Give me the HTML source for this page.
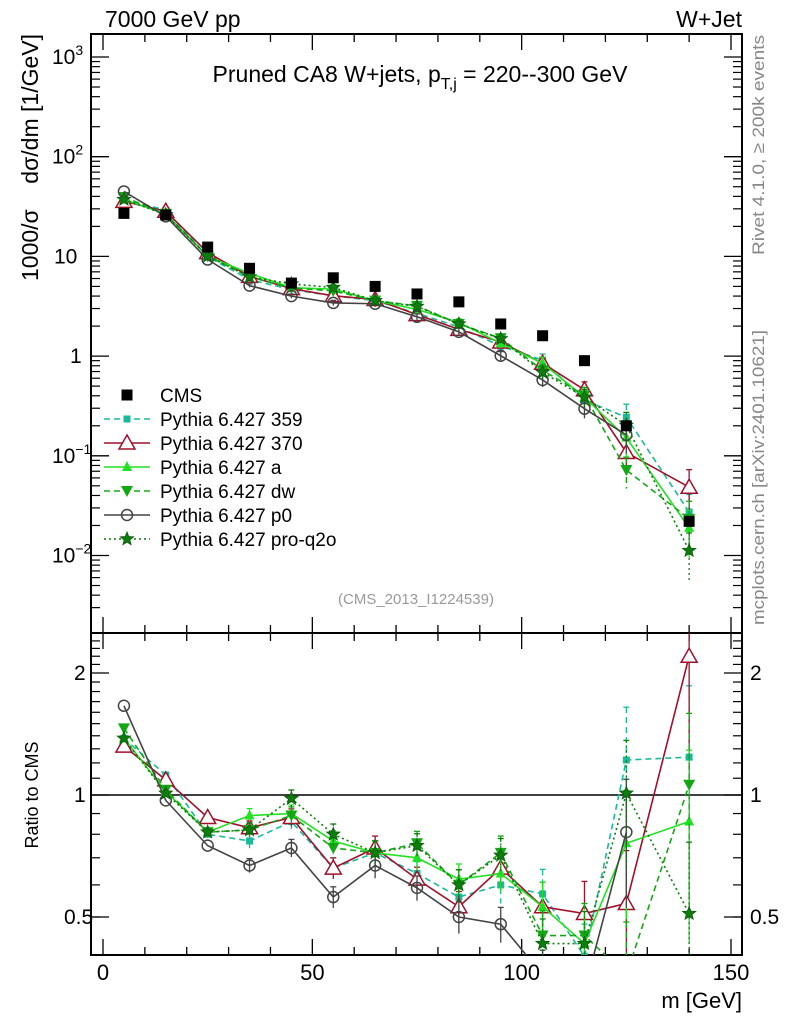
<!DOCTYPE html>
<html><head><meta charset="utf-8"><style>
body{margin:0;background:#fff}
svg{font-family:"Liberation Sans",sans-serif}
</style></head><body>
<svg id="c" width="786" height="1024" xmlns="http://www.w3.org/2000/svg"></svg>
<script>
const bins=[5,15,25,35,45,55,65,75,85,95,105,115,125,140];
const cms=[27,26,12.4,7.6,5.4,6.1,5.0,4.2,3.5,2.1,1.6,0.9,0.2,0.022];
const r359=[1.38,1.12,0.80,0.77,0.86,0.66,0.72,0.64,0.56,0.60,0.57,0.40,1.22,1.24];
const r370=[1.32,1.09,0.88,0.83,0.88,0.66,0.74,0.62,0.53,0.66,0.53,0.51,0.54,2.2];
const ra=[1.38,1.02,0.81,0.89,0.90,0.77,0.72,0.70,0.62,0.64,0.53,0.43,0.76,0.86];
const rdw=[1.46,1.03,0.81,0.82,0.89,0.74,0.72,0.76,0.60,0.72,0.45,0.45,0.36,1.06];
const rp0=[1.66,0.97,0.75,0.67,0.74,0.56,0.67,0.59,0.50,0.48,0.36,0.33,0.81,null];
const rq2o=[1.38,1.01,0.81,0.82,0.98,0.80,0.72,0.75,0.60,0.71,0.43,0.43,1.01,0.51];
const errFrac=[0.02,0.02,0.03,0.04,0.05,0.06,0.07,0.07,0.09,0.1,0.15,0.2,0.35,0.5];
const xTicks=[0,50,100,150];
const yTicksMain=[-2,-1,0,1,2,3];
const rTicks=[0.5,1,2];

const NS="http://www.w3.org/2000/svg",svg=document.getElementById('c');
const L=91,R=742,T=34,M=633,B=955;
const X=v=>103+(v)*(628/150);
const Y=v=>57+(3-Math.log10(v))*99.7;
const YR=v=>795-Math.log2(v)*122;
function el(t,a,p){const e=document.createElementNS(NS,t);for(const k in a)e.setAttribute(k,a[k]);(p||svg).appendChild(e);return e;}
function txt(x,y,s,a){const e=el('text',Object.assign({x:x,y:y,'font-size':20},a||{}));e.innerHTML=s;return e;}

const clipM=el('clipPath',{id:'cm'});el('rect',{x:L,y:T,width:R-L,height:M-T},clipM);
const clipR=el('clipPath',{id:'cr'});el('rect',{x:L,y:M,width:R-L,height:B-M},clipR);

const fm=el('rect',{x:L,y:T,width:R-L,height:M-T,fill:'none',stroke:'#000','stroke-width':2});

const fr=el('rect',{x:L,y:M,width:R-L,height:B-M,fill:'none',stroke:'#000','stroke-width':2});


for(let v=0;v<=150;v+=10){const maj=v%50==0,len=maj?16:8;
 [[T,1],[M,1],[B,-1],[M,-1]].forEach(([y0,d])=>el('line',{x1:X(v),x2:X(v),y1:y0,y2:y0+d*len,stroke:'#000','stroke-width':1.3}));}
xTicks.forEach(v=>{const t=txt(X(v),980,v,{'text-anchor':'middle','font-size':22});
 });
yTicksMain.forEach(p=>{const v=Math.pow(10,p);
 [[L,1],[R,-1]].forEach(([x0,d])=>el('line',{x1:x0,x2:x0+d*18,y1:Y(v),y2:Y(v),stroke:'#000','stroke-width':1.3}));
 for(let m=2;m<10;m++){const y=Y(v*m);if(y>T&&y<M)[[L,1],[R,-1]].forEach(([x0,d])=>el('line',{x1:x0,x2:x0+d*9,y1:y,y2:y,stroke:'#000','stroke-width':1.2}));}
 let lab=p==0?'1':p==1?'10':'10<tspan dy="-9" font-size="14">'+(p<0?'\u2212'+(-p):p)+'</tspan>';
 const t=txt(p>=2||p<0?52:(p==1?54:70),Y(v)+7,lab,{'font-size':21});
 });
for(let m=3;m<10;m++){const y=Y(0.001*m);if(y<M)[[L,1],[R,-1]].forEach(([x0,d])=>el('line',{x1:x0,x2:x0+d*9,y1:y,y2:y,stroke:'#000','stroke-width':1.2}));}
rTicks.forEach(v=>{[[L,1],[R,-1]].forEach(([x0,d])=>el('line',{x1:x0,x2:x0+d*18,y1:YR(v),y2:YR(v),stroke:'#000','stroke-width':1.3}));
 const s=String(v);
 const t1=txt(v==0.5?64:74,YR(v)+7,s,{'font-size':21});
 const t2=txt(750,YR(v)+7,s,{'font-size':21});});
[0.5,0.6,0.7,0.8,0.9,1.1,1.2,1.3,1.4,1.5,1.6,1.7,1.8,1.9,2.1,2.2,2.3,2.4].forEach(v=>{const y=YR(v);if(y>M&&y<B)[[L,1],[R,-1]].forEach(([x0,d])=>el('line',{x1:x0,x2:x0+d*9,y1:y,y2:y,stroke:'#000','stroke-width':1.2}));});
el('line',{x1:L,x2:R,y1:YR(1),y2:YR(1),stroke:'#000','stroke-width':1.5});

function marker(g,type,x,y,col){
 const s=5.5;
 if(type=='sq')el('rect',{x:x-s,y:y-s,width:2*s,height:2*s,fill:col},g);
 else if(type=='sqs')el('rect',{x:x-3.5,y:y-3.5,width:7,height:7,fill:col},g);
 else if(type=='tri')el('polygon',{points:`${x},${y-8} ${x-8},${y+6} ${x+8},${y+6}`,fill:'#fff',stroke:col,'stroke-width':1.5},g);
 else if(type=='trif')el('polygon',{points:`${x},${y-6} ${x-5},${y+4} ${x+5},${y+4}`,fill:col},g);
 else if(type=='tdn')el('polygon',{points:`${x},${y+6} ${x-6},${y-5} ${x+6},${y-5}`,fill:col},g);
 else if(type=='circ')el('circle',{cx:x,cy:y,r:5.5,fill:'#fff','fill-opacity':0,stroke:col,'stroke-width':1.5},g);
 else if(type=='star'){let p=[];for(let i=0;i<10;i++){const a=-Math.PI/2+i*Math.PI/5,rr=i%2?3:7;p.push((x+rr*Math.cos(a))+','+(y+rr*Math.sin(a)));}
  el('polygon',{points:p.join(' '),fill:col,stroke:'#0a5a0a','stroke-width':0.8},g);}
}
const models=[
 {n:'Pythia 6.427 359',r:r359,c:'#1ab99a',d:'6,4',m:'sqs',id:'359'},
 {n:'Pythia 6.427 370',r:r370,c:'#a0102a',d:'',m:'tri',id:'370'},
 {n:'Pythia 6.427 a',r:ra,c:'#22e022',d:'',m:'trif',id:'a'},
 {n:'Pythia 6.427 dw',r:rdw,c:'#13a813',d:'6,4',m:'tdn',id:'dw'},
 {n:'Pythia 6.427 p0',r:rp0,c:'#444',d:'',m:'circ',id:'p0'},
 {n:'Pythia 6.427 pro-q2o',r:rq2o,c:'#0d7d0d',d:'2,3',m:'star',id:'pro-q2o'}];
models.forEach(md=>{
 [['main',v=>Y(v),'cm',(i)=>md.r[i]*cms[i]],['ratio',v=>YR(v),'cr',(i)=>md.r[i]]].forEach(([panel,yf,cl,val])=>{
  const g=el('g',{'clip-path':`url(#${cl})`});
  
  const pts=[];bins.forEach((b,i)=>{if(md.r[i]!=null)pts.push([X(b),yf(val(i)),i]);});
  el('polyline',{points:pts.map(p=>p[0]+','+p[1]).join(' '),fill:'none',stroke:md.c,'stroke-width':1.6,'stroke-dasharray':md.d},g);
  pts.forEach(([x,y,i])=>{const v=val(i),e=errFrac[i];
   if(e>0.03){el('line',{x1:x,x2:x,y1:yf(v*(1+e)),y2:yf(Math.max(v*(1-e),1e-4)),stroke:md.c,'stroke-width':1.3,'stroke-dasharray':md.d},g);
    el('line',{x1:x-3,x2:x+3,y1:yf(v*(1+e)),y2:yf(v*(1+e)),stroke:md.c,'stroke-width':1.3},g);}
   marker(g,md.m,x,y,md.c);});
 });
});
const gc=el('g',{'clip-path':'url(#cm)'});
bins.forEach((b,i)=>marker(gc,'sq',X(b),Y(cms[i]),'#000'));

const lg=el('g',{});
const e0=el('g',{},lg);
marker(e0,'sq',127,395,'#000');e0.appendChild(txt(160,402,'CMS',{'font-size':19}));
models.forEach((md,k)=>{const y=419+k*24;const g=el('g',{},lg);
 
 el('line',{x1:104,x2:150,y1:y,y2:y,stroke:md.c,'stroke-width':1.6,'stroke-dasharray':md.d},g);
 marker(g,md.m,127,y,md.c);g.appendChild(txt(160,y+7,md.n,{'font-size':19}));});

let t;
t=txt(105,27,'7000 GeV pp',{'font-size':23});
t=txt(742,27,'W+Jet',{'font-size':23,'text-anchor':'end'});
t=txt(420,82,'Pruned CA8 W+jets, p<tspan dy="7" font-size="16">T,j</tspan><tspan dy="-7"> = 220--300 GeV</tspan>',{'font-size':23,'text-anchor':'middle'});

t=txt(416,604,'(CMS_2013_I1224539)',{'font-size':15,'text-anchor':'middle',fill:'#999'});
t=txt(0,0,'1000/σ&#160;&#160;&#160;&#160;dσ/dm [1/GeV]',{'font-size':23,'text-anchor':'end',transform:'translate(38,34) rotate(-90)'});

t=txt(0,0,'Ratio to CMS',{'font-size':18,'text-anchor':'middle',transform:'translate(38,795) rotate(-90)'});

t=txt(742,1008,'m [GeV]',{'font-size':22,'text-anchor':'end'});
t=txt(0,0,'Rivet 4.1.0, ≥ 200k events',{'font-size':17,fill:'#888','text-anchor':'end',textLength:220,lengthAdjust:'spacingAndGlyphs',transform:'translate(764,35) rotate(-90)'});

t=txt(0,0,'mcplots.cern.ch [arXiv:2401.10621]',{'font-size':17,fill:'#888','text-anchor':'end',textLength:295,lengthAdjust:'spacingAndGlyphs',transform:'translate(764,330) rotate(-90)'});

</script>
</body></html>
